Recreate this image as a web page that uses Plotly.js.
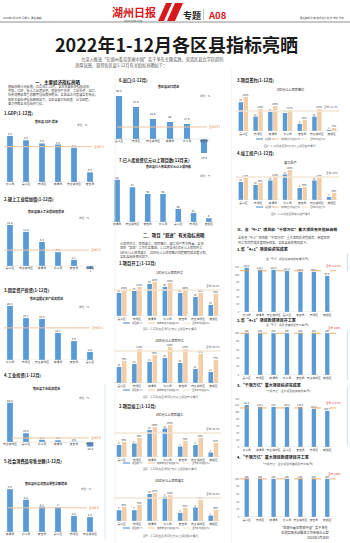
<!DOCTYPE html>
<html><head><meta charset="utf-8">
<script src="https://cdn.plot.ly/plotly-3.0.1.min.js"></script>
<style>html,body{margin:0;padding:0;background:#fff}#c{width:350px;height:543px}</style>
</head><body><div id="c"></div><script>
// ===== DATA =====
const gdpCats=["长兴县","吴兴区","南浔区","德清县","南太湖新区","安吉县"];
const gdpVals=[4.3,3.9,3.6,3.5,3.2,0.9];
const gdpAvg=3.3;
const indCats=["吴兴区","南太湖新区","德清县","长兴县","安吉县","南浔区"];
const indVals=[14.2,11.8,8.3,4.8,2.1,-1.0];
const indAvg=5.5;
const fixCats=["长兴县","南浔区","南太湖新区","德清县","安吉县","吴兴区"];
const fixVals=[25.4,19.7,19.3,12.7,8.9,3.8];
const fixAvg=15.1;
const indInvCats=["南太湖新区","吴兴区","长兴县","德清县","安吉县","南浔区"];
const indInvVals=[83.5,18.6,4.7,3.6,0.5,-10.2];
const indInvAvg=8.6;
const retCats=["德清县","长兴县","安吉县","吴兴区","南浔区","南太湖新区"];
const retVals=[6.9,5.2,4.1,4.0,2.6,2.4];
const retAvg=3.9;
const expCats=["吴兴区","南浔区","南太湖新区","德清县","长兴县","安吉县"];
const expVals=[50.6,37.6,23.5,20.0,17.6,-16.5];
const expAvg=14.1;
const projCats=["德清县","南太湖新区","安吉县","长兴县","吴兴区","南浔区","度假区"];
const projVals=[98,81,65,65,30,21,9];

const grpCats=["吴兴区","南浔区","德清县","长兴县","安吉县","南太湖新区","度假区"];
const startA_n=[46,50,64,58,46,38,22], startA_p=[108,121,142,138,108,96,92], startA_avg=108.3;
const startB_n=[16,19,21,25,20,14,11], startB_p=[73,113,93,120,113,97,77], startB_avg=106.7;
const doneC_n=[8,9,18,19,7,8,3], doneC_p=[65,83,130,139,70,83,61], doneC_avg=104.3;
const doneD_n=[4,4,10,9,3,5,2], doneD_p=[64,73,127,118,59,95,50], doneD_avg=104.5;
const signE_n=[24,12,16,15,6,12,1], signE_p=[189,122,139,117,61,122,17], signE_avg=111.1;
const prodF_n=[12,10,13,17,8,13,2], prodF_p=[110,85,115,150,65,110,35], prodF_avg=115.0;

const p41Cats=["长兴县","德清县","南太湖新区","吴兴区","安吉县","南浔区","度假区"];
const p41Vals=[119.2,114.1,113.8,111.2,108.5,108.1,97.6]; const p41Avg=111.3;
const n41Cats=["吴兴区","南浔区","德清县","长兴县","安吉县","南太湖新区","度假区"];
const n41Vals=[100,100,100,100,100,100,100]; const n41Avg=100;
const pQCats=["长兴县","德清县","南太湖新区","吴兴区","安吉县","南浔区","度假区"];
const pQVals=[121.5,116.2,116.0,115.8,115.6,110.3,104.7]; const pQAvg=113.2;
const nQCats=["吴兴区","南浔区","德清县","长兴县","南太湖新区","安吉县","度假区"];
const nQVals=[100,100,100,100,100,100,100]; const nQAvg=100;

// ===== HELPERS =====
const W=350,H=543;
const FONT='"Noto Sans CJK SC","Noto Sans",sans-serif';
const BLUE='#5b9bd5',TAN='#f2cfa8',REF='#f3c39d',REFTXT='#e2843c',PALE='#f3e6d4';
const X=p=>p/W, Y=p=>1-p/H;
const layout={width:W,height:H,margin:{l:0,r:0,t:0,b:0},paper_bgcolor:'#fff',plot_bgcolor:'rgba(0,0,0,0)',showlegend:false,barmode:'overlay',font:{family:FONT,size:4}};
let ny=0,nx=0; const traces=[],shapes=[],annos=[];
const axName=id=>id[0]+'axis'+id.slice(1);
function addY(top,bot,range,extra){ny++;const k=ny===1?'':ny;layout['yaxis'+k]=Object.assign({domain:[Y(bot),Y(top)],range,visible:false,fixedrange:true,automargin:false,zeroline:false,showgrid:false},extra||{});return 'y'+k;}
function addX(x0,x1,anchor,extra){nx++;const k=nx===1?'':nx;layout['xaxis'+k]=Object.assign({domain:[X(x0),X(x1)],anchor,type:'category',showgrid:false,zeroline:false,showline:false,ticks:'',tickfont:{size:2.8,color:'#444',family:FONT},automargin:false,fixedrange:true,tickangle:0},extra||{});return 'x'+k;}
function T(x,y,text,size,o){o=o||{};annos.push({xref:'paper',yref:'paper',x:X(x),y:Y(y),text,showarrow:false,font:{size,color:o.color||'#222',family:FONT},xanchor:o.xa||'center',yanchor:'middle',borderpad:0});}
function L(x0,y0,x1,y1,color,width,dash){shapes.push({type:'line',xref:'paper',yref:'paper',x0:X(x0),y0:Y(y0),x1:X(x1),y1:Y(y1),line:{color,width,dash:dash||'solid'}});}
const txtf=(s,c)=>({size:s,color:c||'#333',family:FONT});

function simple(c){
  const lo=-(c.bot-c.base)/c.s, hi=(c.base-c.top)/c.s;
  const yid=addY(c.top,c.bot,[lo,hi]);
  const xid=addX(c.x0,c.x1,'free',{position:Y(c.base)+0.002});
  layout[axName(yid)].anchor=xid;
  traces.push({type:'bar',x:c.cats,y:c.vals,xaxis:xid,yaxis:yid,width:0.36,marker:{color:BLUE,line:{width:0}},text:c.vals.map(String),textposition:'outside',constraintext:'none',textfont:txtf(2.8),cliponaxis:false,hoverinfo:'skip'});
  shapes.push({type:'line',xref:'paper',yref:yid,x0:X(c.x0+2),x1:X(c.x1-2),y0:0,y1:0,line:{color:'#d0d0d0',width:0.5}});
  if(c.avg!=null){
    shapes.push({type:'line',xref:'paper',yref:yid,x0:X(c.lx0),x1:X(c.lx1),y0:c.avg,y1:c.avg,line:{color:REF,width:1}});
    annos.push({xref:'paper',yref:yid,x:X(c.lx1+0.8),y:c.avg,xanchor:'left',yanchor:'middle',text:'全市'+c.avg,showarrow:false,font:txtf(2.8,REFTXT),borderpad:0});
  }
}
function grouped(c){
  const yb=addY(c.top,c.base,[0,(c.base-c.top)/c.sb]);
  const xid=addX(c.x0,c.x1,yb);
  layout[axName(yb)].anchor=xid;
  const yt=addY(c.top,c.base,[0,(c.base-c.top)/c.st],{overlaying:yb,anchor:xid});
  traces.push({type:'bar',x:grpCats,y:c.n,xaxis:xid,yaxis:yb,width:0.3,offset:-0.32,marker:{color:BLUE},text:c.n.map(String),textposition:'outside',constraintext:'none',textfont:txtf(2.3),cliponaxis:false,hoverinfo:'skip'});
  traces.push({type:'bar',x:grpCats,y:c.p,xaxis:xid,yaxis:yt,width:0.3,offset:0.02,marker:{color:TAN},text:c.p.map(v=>v+'%'),textposition:'outside',constraintext:'none',textfont:txtf(2.3),cliponaxis:false,hoverinfo:'skip'});
  shapes.push({type:'line',xref:'paper',yref:yt,x0:X(c.x0),x1:X(c.x1),y0:c.avg,y1:c.avg,line:{color:PALE,width:1.3}});
  shapes.push({type:'line',xref:'paper',yref:yb,x0:X(c.x0),x1:X(c.x1),y0:0,y1:0,line:{color:'#d0d0d0',width:0.5}});
  annos.push({xref:'paper',yref:yt,x:X(c.x1),y:c.avg,xanchor:'right',yanchor:'bottom',yshift:1,text:'全市 '+c.avg+'%',showarrow:false,font:txtf(2.4,'#555'),borderpad:0});
}
function legendRow(y,x0,o2,o3,size){
  L(x0,y,x0+7,y,BLUE,1.2); T(x0+8,y,'项目数(个)',size,{xa:'left',color:'#555'});
  L(x0+o2,y,x0+o2+7,y,TAN,1.2); T(x0+o2+8,y,'完成年度计划进度(%)',size,{xa:'left',color:'#555'});
  L(x0+o3,y,x0+o3+7,y,PALE,1.2); T(x0+o3+8,y,'全市平均进度(%)',size,{xa:'left',color:'#555'});
}
function rate(c){
  const yid=addY(c.top,c.base,[0,c.hi],{visible:true,tickvals:c.ticks,tickfont:txtf(2.4,'#555'),ticks:'',showline:false,showgrid:false});
  const xid=addX(c.x0,c.x1,yid);
  layout[axName(yid)].anchor=xid;
  traces.push({type:'bar',x:c.cats,y:c.vals,xaxis:xid,yaxis:yid,width:0.32,marker:{color:BLUE},text:c.vals.map(String),textposition:'outside',constraintext:'none',textfont:txtf(2.4),cliponaxis:false,hoverinfo:'skip'});
  shapes.push({type:'line',xref:'paper',yref:yid,x0:X(c.x0),x1:X(c.x1),y0:0,y1:0,line:{color:'#ccc',width:0.5}});
  shapes.push({type:'line',xref:'paper',yref:yid,x0:X(c.x0),x1:X(c.x1+2),y0:c.avg,y1:c.avg,line:{color:'#eb9a4a',width:0.8,dash:'dash'}});
  annos.push({xref:'paper',yref:yid,x:X(c.x1+8),y:c.avg,xanchor:'right',yanchor:'bottom',yshift:2,text:'全市 '+c.avg+'%',showarrow:false,font:txtf(2.6,'#e5383b'),borderpad:0});
}

// ===== HEADER =====
T(2,18,'2023年1月31日  星期二  责任编辑',2.6,{xa:'left',color:'#444'});
T(134,12,'<b>湖州日报</b>',11,{color:'#d7191c'});
T(133,21,'www.hz66.com',2.6,{color:'#555'});
shapes.push({type:'path',xref:'paper',yref:'paper',path:`M${X(158)},${Y(21)} L${X(166)},${Y(3)} L${X(172)},${Y(3)} L${X(164)},${Y(21)} Z`,fillcolor:'#d7191c',line:{width:0}});
shapes.push({type:'path',xref:'paper',yref:'paper',path:`M${X(167)},${Y(21)} L${X(175)},${Y(3)} L${X(183)},${Y(3)} L${X(175)},${Y(21)} Z`,fillcolor:'#d7191c',line:{width:0}});
T(192,15,'<b>专题</b>',9,{color:'#222'});
L(203.5,9,203.5,20,'#999',0.6);
T(217,15,'<b>A08</b>',9.5,{color:'#d7191c'});
T(346,18,'责任编辑:孙 婧  版式设计:姚 炜  校对:张 宇',2.4,{xa:'right',color:'#444'});
L(0,22,350,22,'#444',0.6);

// ===== TITLE =====
T(176,44,'<b>2022年1-12月各区县指标亮晒</b>',18,{color:'#1a1a1a'});
T(80,59,'为深入推进“在湖州看见美丽中国”实干争先主题实践，营造区县比学赶超的',4.2,{xa:'left',color:'#555'});
T(74,65,'浓厚氛围，现将各区县1-12月有关指标亮晒如下：',4.2,{xa:'left',color:'#555'});

// separators / decorations
L(115,70,115,543,'#e6e6e6',0.5);
L(231.5,70,231.5,543,'#e6e6e6',0.5);
L(105,384,105,540,'#d6e8f3',0.8);
L(347.5,254,347.5,271,'#cfe2ef',1.2);
L(347.5,331,347.5,380,'#cfe2ef',1.2);
L(347.5,387,347.5,445,'#cfe2ef',1.2);

// ===== LEFT COLUMN =====
T(58,82,'<b>一、主要经济指标亮晒</b>',4.5);
const lp=['根据市统计局反馈，2022年1-12月，全市主要经济指标总体',
'平稳，GDP、规上工业增加值、固定资产投资、工业投资、出口、',
'社会消费品零售总额等指标保持增长。各区县之间发展各有特点，',
'现将主要经济指标亮晒如下，各区县要对标找差、比学赶超，',
'奋力夺取全年指标开门红。'];
lp.forEach((s,i)=>T(7,86.5+i*4.2,s,3.1,{xa:'left',color:'#444'}));

T(3,113,'<b>1.GDP(1-12月)</b>',4.2,{xa:'left'});
T(46,122,'<b>各区县 GDP 增速</b>',3,{});
T(82,125,'单位：%',2.6,{color:'#555'});
simple({cats:gdpCats,vals:gdpVals,avg:gdpAvg,x0:2,x1:98,top:128,base:182,bot:182,s:10.7,lx0:4,lx1:92});

T(3,200,'<b>2.规上工业增加值(1-12月)</b>',4.2,{xa:'left'});
T(46,211,'<b>各区县规上工业增加值增速</b>',3,{});
T(84,218,'单位：%',2.6,{color:'#555'});
simple({cats:indCats,vals:indVals,avg:indAvg,x0:2,x1:98,top:220,base:266,bot:272,s:2.89,lx0:4,lx1:89});

T(3,290,'<b>3.固定资产投资(1-12月)</b>',4.2,{xa:'left'});
T(46,298,'<b>各区县固定资产投资增速</b>',3,{});
T(84,307,'单位：%',2.6,{color:'#555'});
simple({cats:fixCats,vals:fixVals,avg:fixAvg,x0:2,x1:98,top:302,base:360,bot:360,s:2.126,lx0:4,lx1:90});

T(3,375,'<b>4.工业投资(1-12月)</b>',4.2,{xa:'left'});
T(46,389,'<b>各区县工业投资增速</b>',3,{});
T(84,398,'单位：%',2.6,{color:'#555'});
simple({cats:indInvCats,vals:indInvVals,avg:indInvAvg,x0:2,x1:98,top:398,base:442,bot:449,s:0.47,lx0:12,lx1:89});

T(3,461,'<b>5.社会消费品零售总额(1-12月)</b>',4.2,{xa:'left'});
T(46,483,'<b>各区县社会消费品零售总额增速</b>',3,{});
T(86,489,'单位：%',2.6,{color:'#555'});
simple({cats:retCats,vals:retVals,avg:retAvg,x0:2,x1:98,top:484,base:532,bot:532,s:6.2,lx0:8,lx1:87});

// ===== MIDDLE COLUMN =====
T(118,81,'<b>6.出口(1-12月)</b>',4.2,{xa:'left'});
T(168,86,'<b>各区县出口增速</b>',3,{});
T(205,96,'单位：%',2.6,{color:'#555'});
simple({cats:expCats,vals:expVals,avg:expAvg,x0:110.5,x1:212.5,top:92,base:139,bot:156,s:0.85,lx0:117,lx1:207});

T(118,160,'<b>7.已入库投资亿元以上项目数(12月末)</b>',4.2,{xa:'left'});
T(168,166,'<b>各区县已入库投资亿元以上项目数</b>',3,{});
T(205,176,'单位：个',2.6,{color:'#555'});
simple({cats:projCats,vals:projVals,avg:null,x0:109.5,x1:216.5,top:176,base:222,bot:222,s:0.43});

T(174,235,'<b>二、项目“双进”有关指标亮晒</b>',4.4);
const mp=['从项目开工、项目竣工、项目签约、竣工投产等方面看，全市',
'项目“双进”工作扎实推进，1-12月全市1亿元以上项目开工、',
'3亿元以上项目竣工、10亿元以上项目签约均超额完成年度计划，',
'各区县具体情况如下。'];
mp.forEach((s,i)=>T(119,243+i*4.6,s,3.1,{xa:'left',color:'#444'}));

T(118,263,'<b>1.项目开工(1-12月)</b>',4.2,{xa:'left'});
T(170,272,'1亿元以上项目开工',3.2,{});
grouped({n:startA_n,p:startA_p,avg:startA_avg,x0:114,x1:221,top:276,base:316,sb:0.5,st:0.24});
legendRow(323,123,25,60,2.3);
T(170,329,'图1：1-12月各区县1亿元以上项目开工情况',2.8,{color:'#666'});

T(170,340,'10亿元以上项目开工',3.2,{});
grouped({n:startB_n,p:startB_p,avg:startB_avg,x0:114,x1:221,top:344,base:383,sb:1.0,st:0.3});
legendRow(390,123,25,60,2.3);
T(170,397,'图2：1-12月各区县10亿元以上项目开工情况',2.8,{color:'#666'});

T(118,406,'<b>2.项目竣工(1-12月)</b>',4.2,{xa:'left'});
T(170,414,'3亿元以上项目竣工',3.2,{});
grouped({n:doneC_n,p:doneC_p,avg:doneC_avg,x0:114,x1:221,top:418,base:457,sb:1.5,st:0.23});
legendRow(463,123,25,60,2.3);
T(170,469,'图3：1-12月各区县3亿元以上项目竣工情况',2.8,{color:'#666'});

T(170,480,'10亿元以上项目竣工',3.2,{});
grouped({n:doneD_n,p:doneD_p,avg:doneD_avg,x0:114,x1:221,top:484,base:521,sb:2.7,st:0.22});
legendRow(528,123,25,60,2.3);
T(170,536,'图4：1-12月各区县10亿元以上项目竣工情况',2.8,{color:'#666'});

// ===== RIGHT COLUMN =====
T(236,80,'<b>3.项目签约(1-12月)</b>',4.2,{xa:'left'});
T(290,89,'3亿元以上项目签约',3.2,{});
grouped({n:signE_n,p:signE_p,avg:signE_avg,x0:236,x1:339,top:94,base:131,sb:1.2,st:0.18});
legendRow(139,256,16,45,2.0);
T(290,146,'图5：1-12月各区县3亿元以上项目签约情况',2.7,{color:'#666'});

T(236,153,'<b>4.竣工投产(1-12月)</b>',4.2,{xa:'left'});
T(290,162,'竣工投产',3.2,{});
grouped({n:prodF_n,p:prodF_p,avg:prodF_avg,x0:236,x1:339,top:165,base:200,sb:1.5,st:0.2});
legendRow(207,256,16,45,2.0);
T(290,214,'图6：1-12月各区县竣工投产情况',2.7,{color:'#666'});

T(236,229,'<b>三、省“4+1”项目和“千项万亿”重大项目有关指标亮晒</b>',3.9,{xa:'left'});
T(237,237,'全市省“4+1”项目和“千项万亿”重大项目投资完成率、新建项目',3.1,{xa:'left',color:'#444'});
T(237,242.5,'开工率均完成年度目标任务，各区县具体情况如下。',3.1,{xa:'left',color:'#444'});

T(236,249,'<b>1.省“4+1”项目投资完成率</b>',4,{xa:'left'});
T(287,259,'省“4+1”项目投资完成率情况(%)',2.8,{color:'#555'});
rate({cats:p41Cats,vals:p41Vals,avg:p41Avg,x0:240,x1:334,top:262,base:312,hi:135,ticks:[0,20,40,60,80,100,120]});

T(236,320,'<b>2.省“4+1”项目新建项目开工率</b>',4,{xa:'left'});
T(287,325,'省“4+1”项目新建项目开工率(%)',2.8,{color:'#555'});
rate({cats:n41Cats,vals:n41Vals,avg:n41Avg,x0:240,x1:334,top:329,base:375,hi:110,ticks:[0,20,40,60,80,100]});

T(236,385,'<b>3.“千项万亿”重大项目投资完成率</b>',4,{xa:'left'});
T(287,391,'“千项万亿”重大项目投资完成率(%)',2.8,{color:'#555'});
rate({cats:pQCats,vals:pQVals,avg:pQAvg,x0:240,x1:334,top:398,base:447,hi:142,ticks:[0,20,40,60,80,100,120,140]});

T(236,457,'<b>4.“千项万亿”重大项目新建项目开工率</b>',4,{xa:'left'});
T(287,464,'“千项万亿”重大项目新建项目开工率(%)',2.8,{color:'#555'});
rate({cats:nQCats,vals:nQVals,avg:nQAvg,x0:240,x1:334,top:472,base:517,hi:118,ticks:[0,20,40,60,80,100]});

T(330,527,'“在湖州看见美丽中国”实干争先',3.2,{xa:'right',color:'#333'});
T(330,532,'主题实践活动推进工作专班办公室',3.2,{xa:'right',color:'#333'});
T(330,537,'2023年1月30日',3.2,{xa:'right',color:'#333'});

layout.shapes=shapes; layout.annotations=annos;
Plotly.newPlot('c',traces,layout,{staticPlot:true,displayModeBar:false});
</script></body></html>
